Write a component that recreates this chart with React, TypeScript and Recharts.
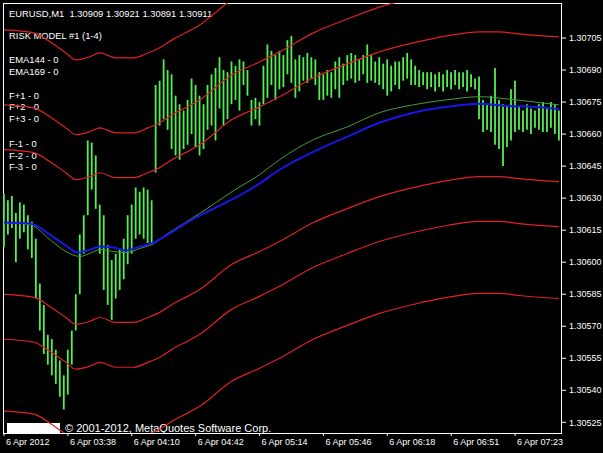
import { ComposedChart, Bar, Line, XAxis, YAxis } from 'recharts'

// EURUSD M1, 6 Apr 2012, one bar drawn every 2 minutes starting at 03:06
const xTicks = [0, 32, 64, 96, 128, 160, 192, 224, 256]
const xLabels = ['6 Apr 2012', '6 Apr 03:38', '6 Apr 04:10', '6 Apr 04:42', '6 Apr 05:14', '6 Apr 05:46', '6 Apr 06:18', '6 Apr 06:51', '6 Apr 07:23']
const priceTicks = [1.30525, 1.3054, 1.30555, 1.3057, 1.30585, 1.306, 1.30615, 1.3063, 1.30645, 1.3066, 1.30675, 1.3069, 1.30705]

const barHigh = [
  1.30632, 1.30629, 1.30631, 1.30623, 1.30628, 1.30627, 1.30622, 1.30619, 1.30611, 1.3059,
  1.3058, 1.30566, 1.30564, 1.30559, 1.30554, 1.30547, 1.30559, 1.30568, 1.30585, 1.30613,
  1.30622, 1.30657, 1.30656, 1.3065, 1.30627, 1.30622, 1.30608, 1.30601, 1.30604, 1.30606,
  1.30611, 1.30622, 1.30627, 1.30635, 1.30633, 1.30635, 1.30634, 1.30629, 1.30683, 1.30685,
  1.30695, 1.3069, 1.30688, 1.30678, 1.30674, 1.30671, 1.30676, 1.30686, 1.30683, 1.30678,
  1.30674, 1.30683, 1.30688, 1.30691, 1.30696, 1.3069, 1.30689, 1.30694, 1.30692, 1.30695,
  1.30694, 1.3069, 1.30676, 1.30677, 1.30675, 1.30692, 1.30702, 1.30699, 1.30697, 1.30699,
  1.30697, 1.30704, 1.30706, 1.30695, 1.30697, 1.30696, 1.30698, 1.30696, 1.30695, 1.30689,
  1.30688, 1.3069, 1.30689, 1.30694, 1.30696, 1.30693, 1.30697, 1.30698, 1.30697, 1.30695,
  1.30697, 1.30702, 1.30697, 1.30694, 1.30696, 1.30693, 1.30695, 1.30692, 1.30694, 1.30694,
  1.30696, 1.30698, 1.30695, 1.30692, 1.3069, 1.30689, 1.30689, 1.30689, 1.30688, 1.30689,
  1.30688, 1.3069, 1.30689, 1.3069, 1.30689, 1.30689, 1.3069, 1.30688, 1.30686, 1.30687,
  1.30676, 1.30674, 1.30678, 1.30691, 1.30676, 1.30674, 1.30673, 1.30681, 1.30685, 1.30673,
  1.30671, 1.30674, 1.30672, 1.30671, 1.30674, 1.30675, 1.30672, 1.30675, 1.30674, 1.30671,
]
const barLow = [
  1.30607, 1.30613, 1.30616, 1.306, 1.30611, 1.30614, 1.30606, 1.30602, 1.30583, 1.30568,
  1.30557, 1.30552, 1.30547, 1.30543, 1.30537, 1.30531, 1.30538, 1.30552, 1.30568, 1.30585,
  1.30604, 1.30622, 1.30634, 1.30625, 1.30604, 1.30587, 1.3058, 1.30573, 1.30583, 1.30587,
  1.30592, 1.30599, 1.30604, 1.30611, 1.30613, 1.30611, 1.30609, 1.30608, 1.30642, 1.30664,
  1.30667, 1.30662, 1.30653, 1.3065, 1.30648, 1.30653, 1.30655, 1.3066, 1.30654, 1.3065,
  1.30653, 1.30662, 1.30664, 1.30657, 1.30672, 1.30664, 1.30667, 1.30674, 1.30676, 1.30671,
  1.30683, 1.30678, 1.30664, 1.30667, 1.30664, 1.30674, 1.30677, 1.30683, 1.30676, 1.30681,
  1.30682, 1.30688, 1.30684, 1.30677, 1.3068, 1.30685, 1.30684, 1.30686, 1.30683, 1.30676,
  1.30676, 1.30678, 1.30677, 1.30681, 1.30677, 1.30683, 1.30685, 1.30686, 1.30684, 1.30685,
  1.30688, 1.30684, 1.30685, 1.30684, 1.30683, 1.30681, 1.30678, 1.3068, 1.30683, 1.30681,
  1.30685, 1.30686, 1.30683, 1.30683, 1.30682, 1.30683, 1.30681, 1.30682, 1.3068, 1.30682,
  1.3068, 1.30682, 1.30681, 1.30683, 1.30681, 1.30682, 1.3068, 1.30682, 1.30681, 1.30667,
  1.30661, 1.30662, 1.30661, 1.30655, 1.30653, 1.30645, 1.30654, 1.30657, 1.30661, 1.30662,
  1.30661, 1.30662, 1.3066, 1.30663, 1.30662, 1.30661, 1.30661, 1.30663, 1.3066, 1.30657,
]

// moving averages, sampled along the curve (minute index)
const ema169At = [0, 13, 23, 31, 37, 43, 48, 55, 61, 68, 75, 82, 90, 98, 105, 115, 128, 138, 155, 172, 188, 205, 222, 238, 252, 265, 278]
const ema169 = [1.306186, 1.306181, 1.306129, 1.306078, 1.306045, 1.306059, 1.306073, 1.306069, 1.306055, 1.306073, 1.306092, 1.306129, 1.306176, 1.306218, 1.306251, 1.306298, 1.306368, 1.306433, 1.306517, 1.306588, 1.306653, 1.3067, 1.306728, 1.306742, 1.306732, 1.306728, 1.306718]
const ema144At = [0, 13, 23, 31, 38, 44, 48, 55, 61, 68, 75, 82, 90, 98, 115, 128, 138, 155, 172, 188, 205, 222, 238, 252, 265, 278]
const ema144 = [1.306186, 1.306176, 1.306106, 1.30605, 1.306027, 1.306045, 1.306059, 1.30605, 1.306045, 1.306064, 1.306087, 1.306134, 1.306181, 1.306228, 1.306335, 1.30641, 1.30648, 1.306574, 1.306634, 1.3067, 1.306737, 1.306761, 1.306775, 1.306765, 1.306751, 1.306737]

// risk model channel lines
const bandAt = [0, 15, 23, 31, 36, 43, 48, 56, 65, 72, 78, 85, 92, 98, 114, 128, 138, 155, 172, 188, 205, 222, 238, 248, 258, 278]
const fPlus3 = [1.307088, 1.307074, 1.307032, 1.30698, 1.306948, 1.306962, 1.30698, 1.306957, 1.306957, 1.30698, 1.307004, 1.307046, 1.307079, 1.307111, 1.307228, 1.307289, 1.307336, 1.307425, 1.30749, 1.307546, 1.307588, 1.307621, 1.30764, 1.30764, 1.30763, 1.307616]
const fPlus2 = [1.306737, 1.306723, 1.306681, 1.306629, 1.306597, 1.306611, 1.306629, 1.306606, 1.306606, 1.306629, 1.306653, 1.306695, 1.306728, 1.30676, 1.306877, 1.306938, 1.306985, 1.307074, 1.307139, 1.307195, 1.307237, 1.30727, 1.307289, 1.307289, 1.307279, 1.307265]
const fPlus1 = [1.306527, 1.306513, 1.306471, 1.306419, 1.306387, 1.306401, 1.306419, 1.306396, 1.306396, 1.306419, 1.306443, 1.306485, 1.306518, 1.30655, 1.306667, 1.306728, 1.306775, 1.306864, 1.306929, 1.306985, 1.307027, 1.30706, 1.307079, 1.307079, 1.307069, 1.307055]
const fMinus1 = [1.305849, 1.305835, 1.305793, 1.305741, 1.305709, 1.305723, 1.305741, 1.305718, 1.305718, 1.305741, 1.305765, 1.305807, 1.30584, 1.305872, 1.305989, 1.30605, 1.306097, 1.306186, 1.306251, 1.306307, 1.306349, 1.306382, 1.306401, 1.306401, 1.306391, 1.306377]
const fMinus2 = [1.305639, 1.305625, 1.305583, 1.305531, 1.305499, 1.305513, 1.305531, 1.305508, 1.305508, 1.305531, 1.305555, 1.305597, 1.30563, 1.305662, 1.305779, 1.30584, 1.305887, 1.305976, 1.306041, 1.306097, 1.306139, 1.306172, 1.306191, 1.306191, 1.306181, 1.306167]
const fMinus3 = [1.305302, 1.305288, 1.305246, 1.305194, 1.305162, 1.305176, 1.305194, 1.305171, 1.305171, 1.305194, 1.305218, 1.30526, 1.305293, 1.305325, 1.305442, 1.305503, 1.30555, 1.305639, 1.305704, 1.30576, 1.305802, 1.305835, 1.305854, 1.305854, 1.305844, 1.30583]

const legendLines = [
  { text: 'RISK MODEL #1 (1-4)', y: 36 },
  { text: 'EMA144 - 0', y: 60 },
  { text: 'EMA169 - 0', y: 72 },
  { text: 'F+1 - 0', y: 96 },
  { text: 'F+2 - 0', y: 107 },
  { text: 'F+3 - 0', y: 119 },
  { text: 'F-1 - 0', y: 144 },
  { text: 'F-2 - 0', y: 156 },
  { text: 'F-3 - 0', y: 167 },
]

const font = '"Liberation Sans", Arial, sans-serif'

const bars = barHigh.map((h, j) => ({ t: j * 2, range: [barLow[j], h] }))
const series = (at: number[], vals: number[]) => at.map((t, k) => ({ t, v: vals[k] }))

const bands = [fPlus3, fPlus2, fPlus1, fMinus1, fMinus2, fMinus3]

const TimeTick = (props: any) => {
  const { x, y, payload } = props
  const label = xLabels[xTicks.indexOf(payload.value)]
  return (
    <text x={x + 2} y={y} dy={9} fill="#fff" fontSize={9} fontFamily={font}>
      {label}
    </text>
  )
}

export default function App() {
  return (
    <div style={{ position: 'relative', width: 603, height: 453, background: '#000' }}>
      <style>{'body{margin:0;background:#000}'}</style>
      {/* MetaTrader overlay texts, painted under the chart */}
      <div style={{ position: 'absolute', left: 0, top: 0, width: 603, height: 453, zIndex: 1 }}>
        <div style={{ position: 'absolute', left: 3, top: 3, width: 559, height: 431, boxSizing: 'border-box', border: '1px solid #fff' }} />
        <div style={{ position: 'absolute', left: 9, top: 8, color: '#fff', fontFamily: font, fontSize: 9.4, lineHeight: '12px', whiteSpace: 'pre' }}>
          {'EURUSD,M1  1.30909 1.30921 1.30891 1.30911'}
        </div>
        {legendLines.map((l) => (
          <div key={l.text} style={{ position: 'absolute', left: 9, top: l.y - 6, color: '#fff', fontFamily: font, fontSize: 9.4, lineHeight: '12px', whiteSpace: 'pre' }}>
            {l.text}
          </div>
        ))}
        <div style={{ position: 'absolute', left: 7, top: 423, width: 53, height: 11, background: '#fff' }} />
        <div style={{ position: 'absolute', left: 65, top: 421, color: '#fff', fontFamily: font, fontSize: 11, lineHeight: '14px', whiteSpace: 'pre' }}>
          {'\u00a9 2001-2012, MetaQuotes Software Corp.'}
        </div>
      </div>
      <div style={{ position: 'absolute', left: 0, top: 0, zIndex: 2 }}>
        <ComposedChart width={603} height={453} data={bars} margin={{ top: 3, right: 0, bottom: 0, left: 3 }}>
          <XAxis
            dataKey="t"
            type="number"
            domain={[-0.5, 279.5]}
            allowDataOverflow
            ticks={xTicks}
            interval={0}
            height={20}
            axisLine={false}
            tickLine={{ stroke: '#fff' }}
            tickSize={3}
            tickMargin={0}
            tick={<TimeTick />}
          />
          <YAxis
            orientation="right"
            type="number"
            domain={[1.3052, 1.307214]}
            allowDataOverflow
            ticks={priceTicks}
            interval={0}
            width={41}
            axisLine={false}
            tickLine={{ stroke: '#fff' }}
            tickSize={4}
            tickMargin={3}
            tickFormatter={(v: number) => v.toFixed(5)}
            tick={{ fill: '#fff', fontSize: 9, fontFamily: font }}
          />
          <Bar dataKey="range" barSize={2} fill="#52f052" isAnimationActive={false} />
          {bands.map((b, k) => (
            <Line
              key={k}
              data={series(bandAt, b)}
              dataKey="v"
              type="monotone"
              stroke="#dd2222"
              strokeWidth={1.2}
              dot={false}
              isAnimationActive={false}
            />
          ))}
          <Line data={series(ema144At, ema144)} dataKey="v" type="monotone" stroke="#3f9f3f" strokeWidth={1} dot={false} isAnimationActive={false} />
          <Line data={series(ema169At, ema169)} dataKey="v" type="monotone" stroke="#1616e8" strokeWidth={2} dot={false} isAnimationActive={false} />
        </ComposedChart>
      </div>
    </div>
  )
}
